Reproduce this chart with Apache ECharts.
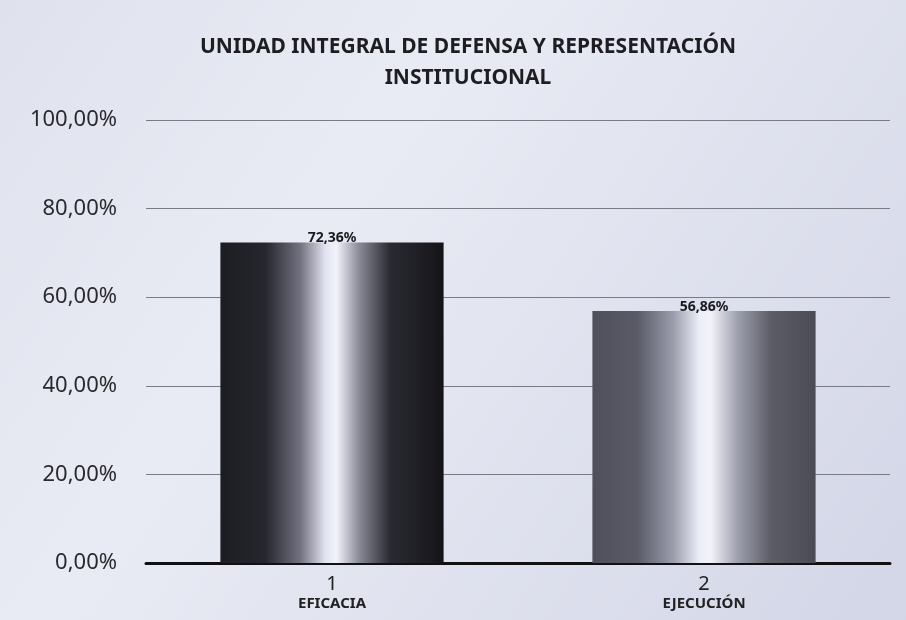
<!DOCTYPE html>
<html>
<head>
<meta charset="utf-8">
<script src="https://cdn.jsdelivr.net/npm/echarts@6/dist/echarts.min.js"></script>
<style>
html,body{margin:0;padding:0;background:#dcdfec;}
#c{width:906px;height:620px;}
</style>
</head>
<body>
<div id="c"></div>
<script>
const titleText = 'UNIDAD INTEGRAL DE DEFENSA Y REPRESENTACIÓN\nINSTITUCIONAL';
const categoryNumbers = ['1', '2'];
const categoryNames = ['EFICACIA', 'EJECUCIÓN'];
const values = [0.7236, 0.5686];
const yTicks = [0, 0.2, 0.4, 0.6, 0.8, 1.0];

function pct(v) { return (v * 100).toFixed(2).replace('.', ',') + '%'; }

const darkGrad = {
  type: 'linear', x: 0, y: 0, x2: 1, y2: 0,
  colorStops: [
    {offset: 0, color: '#1c1c22'},
    {offset: 0.2, color: '#26262e'},
    {offset: 0.36, color: '#737382'},
    {offset: 0.47, color: '#e2e3f0'},
    {offset: 0.52, color: '#f2f2fa'},
    {offset: 0.62, color: '#8a8b98'},
    {offset: 0.76, color: '#2a2a32'},
    {offset: 1, color: '#141418'}
  ]
};
const lightGrad = {
  type: 'linear', x: 0, y: 0, x2: 1, y2: 0,
  colorStops: [
    {offset: 0, color: '#4e4f5a'},
    {offset: 0.2, color: '#5a5b66'},
    {offset: 0.36, color: '#9a9bab'},
    {offset: 0.48, color: '#eceef8'},
    {offset: 0.53, color: '#f2f3fa'},
    {offset: 0.65, color: '#9fa0ae'},
    {offset: 0.8, color: '#5b5c66'},
    {offset: 1, color: '#4a4b55'}
  ]
};
const grads = [darkGrad, lightGrad];

const chart = echarts.init(document.getElementById('c'), null, {renderer: 'canvas'});
chart.setOption({
  backgroundColor: {
    type: 'linear', x: 0, y: 0, x2: 1, y2: 1,
    colorStops: [
      {offset: 0, color: '#dfe1ed'},
      {offset: 0.35, color: '#e9ebf4'},
      {offset: 1, color: '#d3d6e7'}
    ]
  },
  title: {
    text: titleText,
    left: 463,
    textAlign: 'center',
    top: 27,
    textStyle: {
      fontFamily: 'Noto Sans',
      fontSize: 21,
      fontWeight: 'bold',
      color: '#1e1e22',
      lineHeight: 31
    }
  },
  grid: {left: 146, right: 16, top: 120, bottom: 57, containLabel: false},
  xAxis: {
    type: 'category',
    data: categoryNumbers.map((n, i) => n + '\n' + categoryNames[i]),
    axisLine: {show: true, lineStyle: {color: '#111', width: 3}},
    axisTick: {show: false},
    axisLabel: {
      margin: 11,
      formatter: function (v) {
        const parts = v.split('\n');
        return '{n|' + parts[0] + '}\n{c|' + parts[1] + '}';
      },
      rich: {
        n: {fontFamily: 'Noto Sans', fontSize: 20, color: '#222', lineHeight: 21},
        c: {fontFamily: 'Noto Sans', fontSize: 15, fontWeight: 'bold', color: '#222', lineHeight: 17}
      }
    }
  },
  yAxis: {
    type: 'value',
    min: yTicks[0],
    max: yTicks[yTicks.length - 1],
    interval: 0.2,
    axisLine: {show: false},
    axisTick: {show: false},
    axisLabel: {
      margin: 29,
      formatter: pct,
      fontFamily: 'Noto Sans',
      fontSize: 22,
      color: '#2a2a2e'
    },
    splitLine: {lineStyle: {color: '#7a7b84', width: 1.2}}
  },
  series: [{
    type: 'bar',
    barWidth: '60%',
    data: values.map((v, i) => ({value: v, itemStyle: {color: grads[i]}})),
    label: {
      show: true,
      position: 'top',
      distance: -3,
      formatter: p => pct(p.value),
      fontFamily: 'Noto Sans',
      fontSize: 14,
      fontWeight: 'bold',
      color: '#1a1a1e'
    }
  }]
});
</script>
</body>
</html>
